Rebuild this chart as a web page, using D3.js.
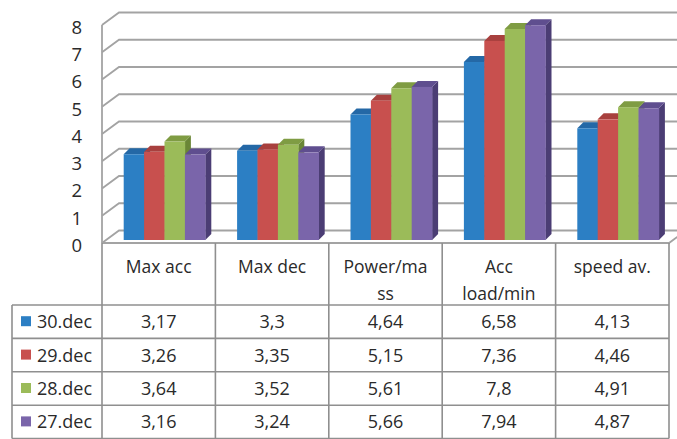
<!DOCTYPE html>
<html>
<head>
<meta charset="utf-8">
<script src="https://cdn.jsdelivr.net/npm/d3@7"></script>
<style>
  html, body { margin: 0; padding: 0; background: #fff; }
  svg { display: block; font-family: "Open Sans", "Noto Sans", sans-serif; }
</style>
</head>
<body>
<svg id="chart" width="677" height="439"></svg>
<script>
// ---- data ----
const categories = ["Max acc", "Max dec", "Power/ma\nss", "Acc\nload/min", "speed av."];
const seriesNames = ["30.dec", "29.dec", "28.dec", "27.dec"];
const dec30 = [3.17, 3.3, 4.64, 6.58, 4.13];
const dec29 = [3.26, 3.35, 5.15, 7.36, 4.46];
const dec28 = [3.64, 3.52, 5.61, 7.8, 4.91];
const dec27 = [3.16, 3.24, 5.66, 7.94, 4.87];
const yTicks = [0, 1, 2, 3, 4, 5, 6, 7, 8];
const seriesColors = ["#2c7fc4", "#c8504e", "#9bbb59", "#7a65aa"];
const topColors = ["#2468a6", "#a8403e", "#7f9c43", "#5f4e8f"];
const sideColors = ["#1d5590", "#8c3533", "#6a8636", "#4b3d74"];

const seriesValues = [dec30, dec29, dec28, dec27];

// ---- layout ----
const svg = d3.select("#chart");
const plotLeft = 102, plotRight = 669;
const depthX = 17, depthY = 12.5;   // wall depth
const barDX = 6, barDY = 6;          // bar depth

const x = d3.scaleBand().domain(categories).range([plotLeft, plotRight]).padding(0);
const xInner = d3.scaleBand().domain(seriesNames).range([21.7, 103.3]).padding(0);
const yGrid = d3.scaleLinear().domain([0, 8]).range([243, 25]);
const yBar = d3.scaleLinear().domain([0, 8]).range([240, 23.6]);
const yLab = d3.scaleLinear().domain([0, 8]).range([245.5, 27.5]);

const gridColor = "#a3a3a3";
const textColor = "#2a2a2a";

// gridlines (left wall + back wall)
const grid = svg.append("g");
grid.selectAll("path.grid")
  .data(yTicks)
  .join("path")
  .attr("class", "grid")
  .attr("d", d => {
    const yf = yGrid(d), yb = yf - depthY;
    return `M${plotLeft},${yf}L${plotLeft + depthX},${yb}H${680}`;
  })
  .attr("fill", "none")
  .attr("stroke", gridColor)
  .attr("stroke-width", 1.8);

// left wall front edge
grid.append("path")
  .attr("d", `M${plotLeft},${yGrid(8)}V${yGrid(0)}`)
  .attr("stroke", gridColor).attr("stroke-width", 1.8);

// floor front edge + right edge
grid.append("path")
  .attr("d", `M${plotLeft},${yGrid(0)}H${plotRight}L${plotRight + depthX},${yGrid(0) - depthY}`)
  .attr("fill", "none")
  .attr("stroke", gridColor).attr("stroke-width", 1.8);

// y axis labels
const yAxis = d3.axisLeft(yLab).tickValues(yTicks).tickSize(0).tickPadding(0).tickFormat(d3.format("d"));
const ga = svg.append("g").attr("transform", "translate(82,0)").call(yAxis);
ga.select(".domain").remove();
ga.selectAll("text")
  .attr("font-size", 18.5)
  .attr("font-family", "'Open Sans', sans-serif")
  .attr("fill", textColor);

// bars
const barsG = svg.append("g");
categories.forEach((cat, ci) => {
  seriesNames.forEach((s, si) => {
    const v = seriesValues[si][ci];
    const x0 = x(cat) + xInner(s);
    const w = xInner.bandwidth();
    const yt = yBar(v), yb = yBar(0);
    const g = barsG.append("g");
    // side face
    g.append("path")
      .attr("d", `M${x0 + w},${yt}L${x0 + w + barDX},${yt - barDY}L${x0 + w + barDX},${yb - barDY}L${x0 + w},${yb}Z`)
      .attr("fill", sideColors[si]);
    // top face
    g.append("path")
      .attr("d", `M${x0},${yt}L${x0 + w},${yt}L${x0 + w + barDX},${yt - barDY}L${x0 + barDX},${yt - barDY}Z`)
      .attr("fill", topColors[si]);
    // front face
    g.append("rect")
      .attr("x", x0).attr("y", yt)
      .attr("width", w + 0.3).attr("height", yb - yt)
      .attr("fill", seriesColors[si]);
  });
});

// ---- data table ----
const tableG = svg.append("g");
const headerTop = 243, headerBottom = 305;
const rowH = 33.4;
const tableLeft = 12;
const rowTops = seriesNames.map((s, i) => headerBottom + i * rowH);
const tableBottom = headerBottom + seriesNames.length * rowH;
const lineColor = "#8f8f8f";

// vertical lines for category columns
const colEdges = categories.map(c => x(c)).concat([plotRight]);
tableG.selectAll("line.v")
  .data(colEdges)
  .join("line")
  .attr("x1", d => d).attr("x2", d => d)
  .attr("y1", headerTop).attr("y2", tableBottom)
  .attr("stroke", lineColor).attr("stroke-width", 1.6);
// legend column left edge
tableG.append("line")
  .attr("x1", tableLeft).attr("x2", tableLeft)
  .attr("y1", headerBottom).attr("y2", tableBottom)
  .attr("stroke", lineColor).attr("stroke-width", 1.6);
// horizontal lines
tableG.selectAll("line.h")
  .data(rowTops.concat([tableBottom]))
  .join("line")
  .attr("x1", tableLeft).attr("x2", plotRight)
  .attr("y1", d => d).attr("y2", d => d)
  .attr("stroke", lineColor).attr("stroke-width", 1.6);

// header text
categories.forEach(cat => {
  const lines = cat.split("\n");
  const t = tableG.append("text")
    .attr("x", x(cat) + x.bandwidth() / 2)
    .attr("y", 273)
    .attr("text-anchor", "middle")
    .attr("font-size", 17.5)
    .attr("fill", textColor);
  lines.forEach((ln, i) => {
    t.append("tspan")
      .attr("x", x(cat) + x.bandwidth() / 2)
      .attr("y", 273 + i * 26.5)
      .text(ln);
  });
});

// rows
seriesNames.forEach((s, si) => {
  const yc = rowTops[si] + rowH / 2;
  tableG.append("rect")
    .attr("x", 21).attr("y", yc - 5.5)
    .attr("width", 10).attr("height", 10)
    .attr("fill", seriesColors[si]);
  tableG.append("text")
    .attr("x", 37).attr("y", yc + 6.5)
    .attr("font-size", 18)
    .attr("fill", textColor)
    .text(s);
  categories.forEach((cat, ci) => {
    tableG.append("text")
      .attr("x", x(cat) + x.bandwidth() / 2)
      .attr("y", yc + 6.5)
      .attr("text-anchor", "middle")
      .attr("font-size", 18)
      .attr("fill", textColor)
      .text(String(seriesValues[si][ci]).replace(".", ","));
  });
});
</script>
</body>
</html>
